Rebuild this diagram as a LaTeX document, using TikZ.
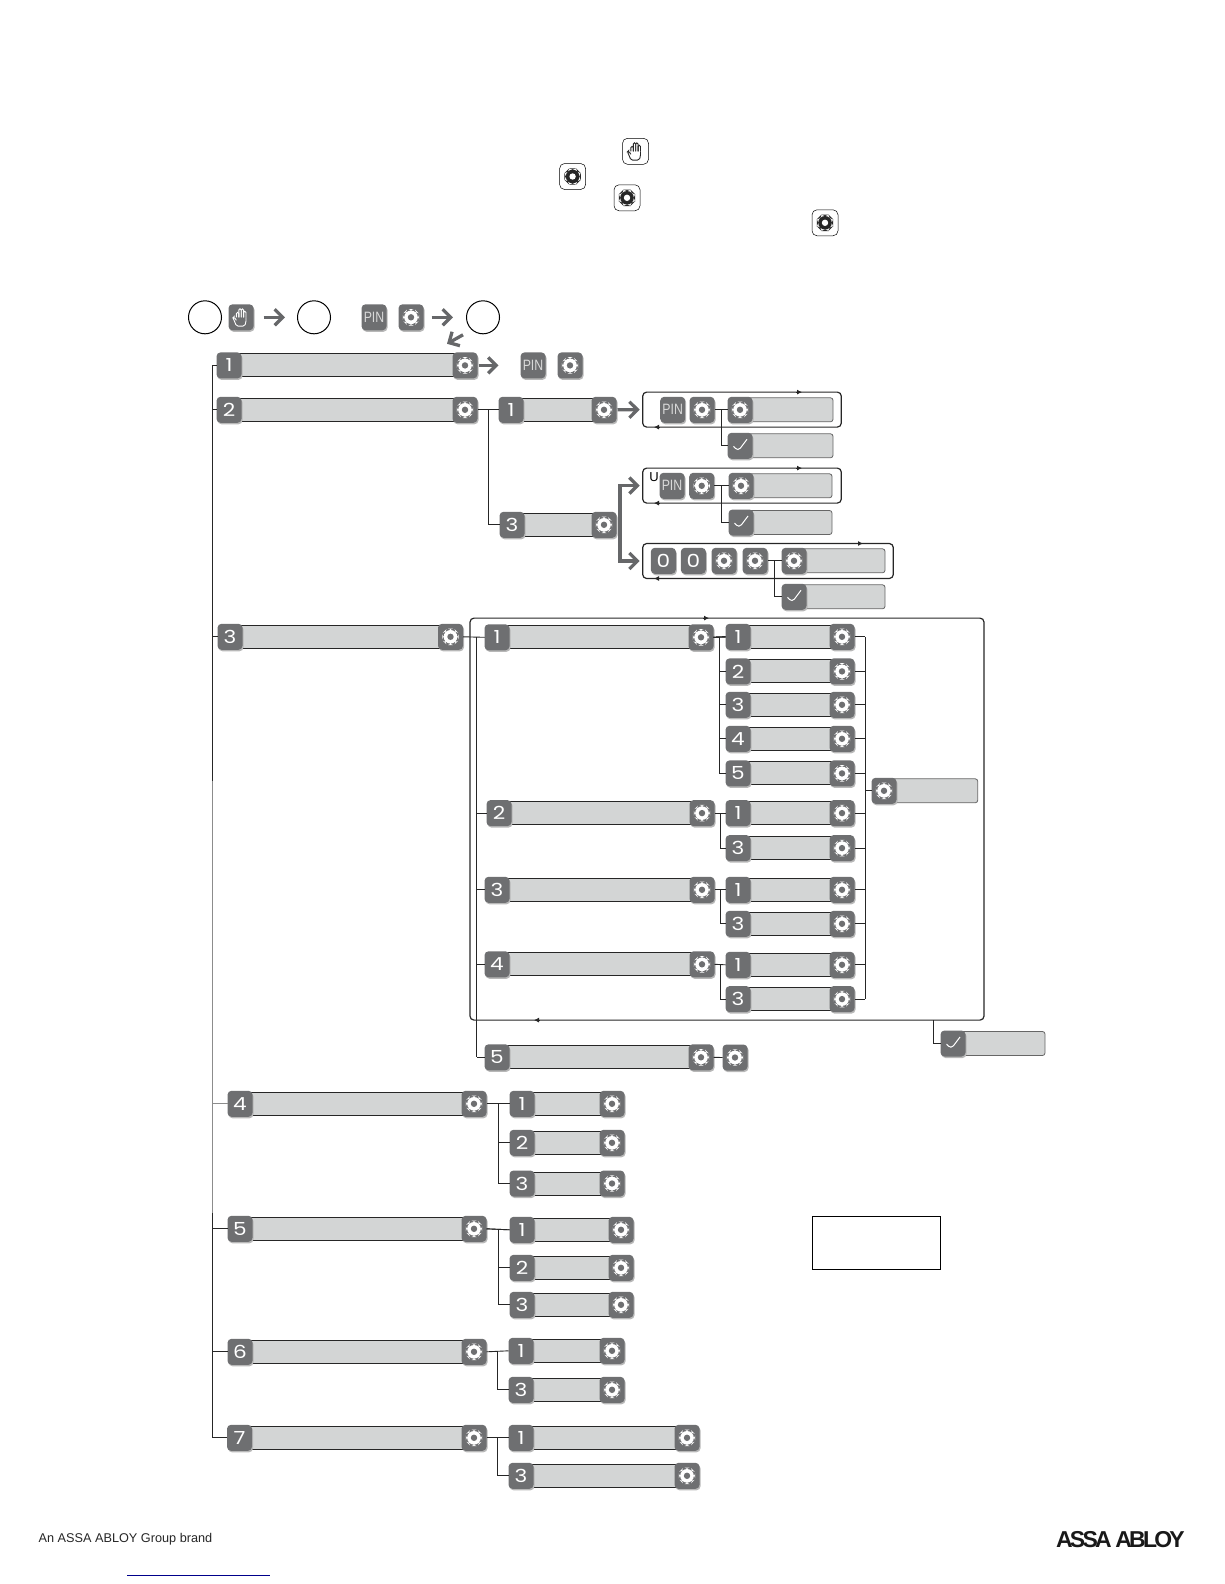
\documentclass[tikz,border=0pt]{standalone}
\usepackage{fontspec}
\usepackage{xcolor}
\usepackage{tikz}
\usetikzlibrary{arrows.meta,calc,shadows}
\setmainfont{Liberation Sans}
\newfontfamily\digitfont[FakeStretch=1.2]{Poppins}
\newfontfamily\pinfont[FakeStretch=.82]{Liberation Sans}
\newfontfamily\logofont[LetterSpace=-12]{Liberation Sans}
\definecolor{keygrey}{HTML}{6E6F71}
\definecolor{bargrey}{HTML}{D3D5D5}
\definecolor{arrowgrey}{HTML}{666769}
\definecolor{footblue}{HTML}{00008B}
\tikzset{
  pics/cog/.style 2 args={code={
    \foreach \a in {0,45,90,135}
      \fill[#1,rotate=\a] (-1.5,-8.2) rectangle (1.5,8.2);
    \fill[#1] (0,0) circle (6.8pt);
    \fill[#2] (0,0) circle (3.2pt);
  }},
  pics/palm/.style={code={
    \foreach \fx/\ft in {-3.4/-5,-1/-8.5,1.4/-8.5,3.8/-6}
      \draw[#1,line width=0.9pt,rounded corners=1.2pt] ({\fx-1.2},0) -- ({\fx-1.2},\ft) -- ({\fx+1.2},\ft) -- ({\fx+1.2},0);
    \draw[#1,line width=0.9pt,rounded corners=1.5pt] (-4.6,3) -- (-7,-0.5) -- (-8,0.5) -- (-4.5,8.8) -- (3.5,8.8) -- (5,5) -- (5,0);
  }},
  pics/tickmark/.style={code={
    \draw[white,line width=1pt] (-6.5,0.5) -- (-2,5.5) -- (7,-6.5);
  }},
  keybox/.style={fill=keygrey,rounded corners=4pt,minimum width=25pt,minimum height=26pt,
    inner sep=0pt,outer sep=0pt,text=white,font={\digitfont\fontsize{18}{18}\selectfont},
    general shadow={fill=black!28,shadow xshift=1pt,shadow yshift=-1.5pt}},
  gearkey/.style={keybox,path picture={\pic at (path picture bounding box.center) {cog={white}{keygrey}};}},
  handkey/.style={keybox,path picture={\pic at (path picture bounding box.center) {palm=white};}},
  checkkey/.style={keybox,path picture={\pic at (path picture bounding box.center) {tickmark};}},
  pinkey/.style={keybox,font={\pinfont\fontsize{15}{15}\selectfont},text=white!85!black},
  iconbox/.style={draw=black,line width=0.5pt,fill=white,rounded corners=5pt,minimum size=26pt,inner sep=0pt},
  gearicon/.style={iconbox,path picture={\pic at (path picture bounding box.center) {cog={black!85}{white}};}},
  handicon/.style={iconbox,path picture={\pic at (path picture bounding box.center) {palm=black!85};}},
  stepcircle/.style={circle,draw=black,line width=1pt,minimum size=33pt,inner sep=0pt},
  frame/.style={draw=black!85,line width=1.2pt,rounded corners=4pt,inner sep=0pt,outer sep=0pt},
  link/.style={draw=black!85,line width=0.9pt},
  bigarrow/.style={draw=arrowgrey,line width=3.3pt,-{Straight Barb[length=8pt,width=16pt,line width=3.3pt]}},
  runtip/.style={draw=black!85,line width=0.8pt,-{Latex[length=5pt,width=5pt]}},
}
\begin{document}
\begin{tikzpicture}[x=1pt,y=-1pt,>=Latex]
  \useasboundingbox (0,-0.8) rectangle (1224,1583.2);
  % top icons
  \node[handicon] (tophand) at (635.5,150.5) {};
  \node[gearicon] (topgeara) at (572.6,175.7) {};
  \node[gearicon] (topgearb) at (627,197) {};
  \node[gearicon] (topgearc) at (825,222) {};
  % entry line
  \node[stepcircle] (stepa) at (205,316.5) {};
  \node[handkey] (enterhand) at (241,316.5) {};
  \node[stepcircle] (stepb) at (314,316.5) {};
  \node[pinkey] (enterpin) at (374,316.5) {PIN};
  \node[gearkey] (entergear) at (411,316.5) {};
  \node[stepcircle] (stepc) at (483,316.5) {};
  \coordinate (slanttail) at (463,334);
  \coordinate (slanttip) at (447,343);
  \draw[bigarrow,shorten <=10pt,shorten >=12pt] (enterhand.east) -- (stepb.west);
  \draw[bigarrow,shorten <=8pt,shorten >=13pt] (entergear.east) -- (stepc.west);
  \draw[bigarrow] (slanttail) -- (slanttip);
  % menu rows, all of the same make
  \foreach \n/\d/\xk/\xg/\y in {
    m1/1/229/465/364.6, m2/2/229/465/409, m3/3/230/450.5/636, m4/4/240/474/1103,
    m5/5/240/474/1228, m6/6/240/474/1351, m7/7/239.5/474/1437,
    s1/1/511/604/409, s3/3/512/604/524,
    a1/1/497/701/636.5, a2/2/499/702/812.3, a3/3/497/702/889, a4/4/497/702/963.5, a5/5/497/701/1056.5,
    b1/1/738/842/636, b2/2/738/842/670.6, b3/3/738/842/704, b4/4/738/842/738, b5/5/738/842/772.6,
    bb1/1/738/842/812.3, bb3/3/738/842/847.3, bc1/1/738/842/889, bc3/3/738/842/923,
    bd1/1/738/842/964, bd3/3/738/842/998.3,
    c1/1/522/612/1103, c2/2/522/612/1142, c3/3/522/612/1182.7,
    d1/1/522/621/1229, d2/2/522/621/1267, d3/3/522/621/1304,
    e1/1/521/612/1350, e3/3/521/612/1389, f1/1/521/687/1437, f3/3/521/687/1475}{
    \fill[bargrey] (\xk,\y-11.5) rectangle (\xg,\y+11.5);
    \draw[link] (\xk,\y-11.5) -- (\xg,\y-11.5) (\xk,\y+11.5) -- (\xg,\y+11.5);
    \node[keybox] (k\n) at (\xk,\y) {\d};
    \node[gearkey] (g\n) at (\xg,\y) {};
  }
  % closed rows with a gear or a tick in front
  \foreach \n/\st/\x/\xe/\y in {
    ia/gearkey/740/833/409, ib/gearkey/741/832/485, ic/gearkey/794/885/560, ie/gearkey/884/977.7/790,
    ca/checkkey/740/833/445, cb/checkkey/741/832/521.7, cc/checkkey/794/885/596, cd/checkkey/953/1045/1042.7}{
    \draw[fill=bargrey,draw=black!60,line width=0.8pt,rounded corners=2.5pt] (\x,\y-12) rectangle (\xe,\y+12);
    \node[\st] (\n) at (\x,\y) {};
  }
  % row 1 goes on
  \node[pinkey] (onepin) at (533,364.6) {PIN};
  \node[gearkey] (onegear) at (570,364.6) {};
  \draw[bigarrow,shorten <=1pt,shorten >=22pt] (gm1.east) -- (onepin.west);
  % frames
  \node[frame,minimum width=198.6pt,minimum height=35pt] (framea) at (742,408.8) {};
  \node[frame,minimum width=198.6pt,minimum height=35pt] (frameb) at (742,484.8) {};
  \node[frame,minimum width=250.6pt,minimum height=35pt] (framec) at (768,560.2) {};
  \node[frame,minimum width=514pt,minimum height=402pt] (framed) at (727,818.3) {};
  \node[pinkey] (pina) at (672.7,409) {PIN};
  \node[gearkey] (gaa) at (702,409) {};
  \node[pinkey] (pinb) at (672,485) {PIN};
  \node[gearkey] (gab) at (701.7,485) {};
  \node at (654,476) {\fontsize{13}{13}\selectfont U};
  \node[keybox] (zeroa) at (663.3,560) {0};
  \node[keybox] (zerob) at (693.3,560) {0};
  \node[gearkey] (gca) at (724,560) {};
  \node[gearkey] (gcb) at (755,560) {};
  \foreach \b/\xt/\xf in {framea/802/654,frameb/802/654,framec/863/654,framed/709/534}{
    \draw[runtip] ({\xt-6},0 |- \b.north) -- ({\xt},0 |- \b.north);
    \draw[runtip] ({\xf+6},0 |- \b.south) -- ({\xf},0 |- \b.south);
  }
  \draw[bigarrow,shorten <=1pt,shorten >=3pt] (gs1.east) -- (framea.west);
  \coordinate (fork) at (620,523);
  \draw[bigarrow,shorten >=3pt] (fork) |- (frameb.west);
  \draw[bigarrow,shorten >=3pt] (fork) |- (framec.west);
  % branches
  \foreach \g/\kf/\k in {gm2/ks1/ks3, gaa/ia/ca, gab/ib/cb, gcb/ic/cc,
    ga1/kb1/kb2, ga1/kb1/kb3, ga1/kb1/kb4, ga1/kb1/kb5, ga2/kbb1/kbb3, ga3/kbc1/kbc3, ga4/kbd1/kbd3,
    gm4/kc1/kc2, gm4/kc1/kc3, gm5/kd1/kd2, gm5/kd1/kd3, gm6/ke1/ke3, gm7/kf1/kf3}{
    \draw[link] (\g.east) -- (\kf.west);
    \draw[link] ($(\g.east)!.5!(\kf.west)$) |- (\k.west);
  }
  % left trunk
  \coordinate (trunka) at (212,780);
  \coordinate (trunkb) at (212,1212);
  \coordinate (trunkc) at (212,1437);
  \draw[link] (km1.west -| trunka) -- (trunka);
  \draw[link,draw=black!45] (trunka) -- (trunkb);
  \draw[link] (trunkb) -- (trunkc);
  \foreach \k in {km1,km2,km3,km5,km6,km7}
    \draw[link] (\k.west) -- (\k.west -| trunka);
  \draw[link,draw=black!45] (km4.west) -- (km4.west -| trunka);
  % section 3
  \coordinate (spine) at (476.5,1056.5);
  \draw[link] (gm3.east) -- (ka1.west);
  \draw[link] (ka1.west -| spine) -- (spine);
  \foreach \k in {ka2,ka3,ka4,ka5}
    \draw[link] (\k.west) -- (\k.west -| spine);
  \coordinate (rail) at (865.3,998.3);
  \draw[link] (gb1.east -| rail) -- (rail);
  \foreach \g in {gb1,gb2,gb3,gb4,gb5,gbb1,gbb3,gbc1,gbc3,gbd1,gbd3}
    \draw[link] (\g.east) -- (\g.east -| rail);
  \draw[link] (ie.west) -- (ie.west -| rail);
  \coordinate (framedtap) at (933.3,1019.3);
  \draw[link] (framedtap) |- (cd.west);
  \node[gearkey] (gaz) at (735,1056.7) {};
  \draw[link] (ga5.east) -- (gaz.west);
  % empty note box and footer
  \node[draw=black,line width=0.7pt,minimum width=128pt,minimum height=52.5pt,inner sep=0pt] (notebox) at (876,1242.2) {};
  \node[anchor=west,inner sep=0pt,font=\fontsize{12.7}{13}\selectfont,text=black!85] (footnote) at (38.4,1538.5) {An ASSA ABLOY Group brand};
  \node[anchor=east,inner sep=0pt,font={\logofont\bfseries\fontsize{23}{23}\selectfont},text=black!90] (footlogo) at (1185,1538.5) {ASSA ABLOY};
  \coordinate (blinka) at (127,1574.5);
  \coordinate (blinkb) at (270,1574.5);
  \draw[footblue,line width=1.2pt] (blinka) -- (blinkb);
\end{tikzpicture}
\end{document}
